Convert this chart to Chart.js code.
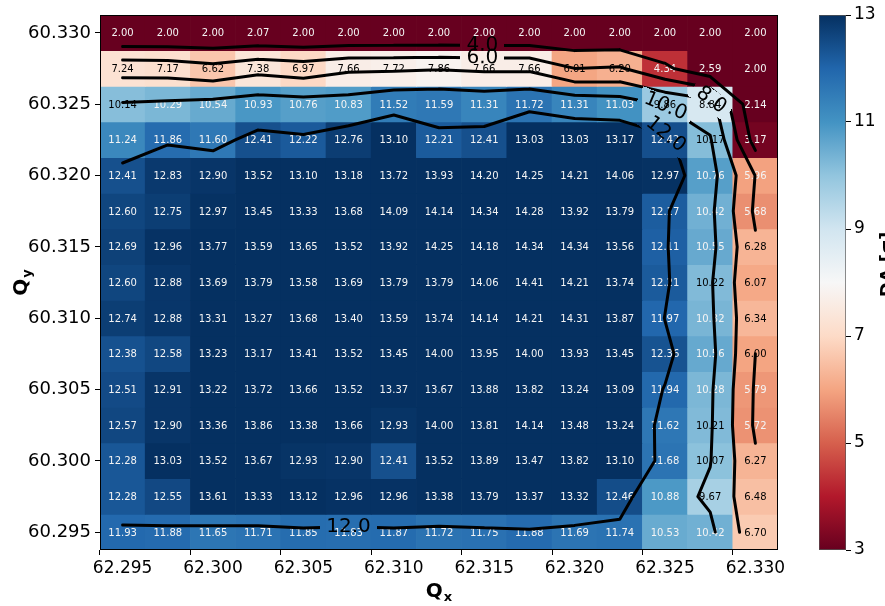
<!DOCTYPE html>
<html>
<head>
<meta charset="utf-8">
<script src="https://cdn.jsdelivr.net/npm/chart.js@4.4.0/dist/chart.umd.min.js"></script>
<style>
  html, body { margin: 0; padding: 0; background: #fff; }
  #wrap { position: relative; width: 885px; height: 606px; overflow: hidden; }
  #main { position: absolute; left: 0; top: 0; }
  #cbar { position: absolute; left: 800px; top: 0; }
</style>
</head>
<body>
<div id="wrap">
  <canvas id="main" width="885" height="606"></canvas>
  <canvas id="cbar" width="85" height="606"></canvas>
</div>
<script>
var qx = [62.295, 62.2975, 62.300, 62.3025, 62.305, 62.3075, 62.310, 62.3125, 62.315, 62.3175, 62.320, 62.3225, 62.325, 62.3275, 62.330];
var qy = [60.330, 60.3275, 60.325, 60.3225, 60.320, 60.3175, 60.315, 60.3125, 60.310, 60.3075, 60.305, 60.3025, 60.300, 60.2975, 60.295];

// rows top (60.330) to bottom (60.295)
var da = [
    [2.00, 2.00, 2.00, 2.07, 2.00, 2.00, 2.00, 2.00, 2.00, 2.00, 2.00, 2.00, 2.00, 2.00, 2.00],
    [7.24, 7.17, 6.62, 7.38, 6.97, 7.66, 7.72, 7.86, 7.66, 7.66, 6.01, 6.20, 4.34, 2.59, 2.00],
    [10.14, 10.29, 10.54, 10.93, 10.76, 10.83, 11.52, 11.59, 11.31, 11.72, 11.31, 11.03, 9.86, 8.84, 2.14],
    [11.24, 11.86, 11.60, 12.41, 12.22, 12.76, 13.10, 12.21, 12.41, 13.03, 13.03, 13.17, 12.42, 10.17, 3.17],
    [12.41, 12.83, 12.90, 13.52, 13.10, 13.18, 13.72, 13.93, 14.20, 14.25, 14.21, 14.06, 12.97, 10.76, 5.96],
    [12.60, 12.75, 12.97, 13.45, 13.33, 13.68, 14.09, 14.14, 14.34, 14.28, 13.92, 13.79, 12.17, 10.42, 5.68],
    [12.69, 12.96, 13.77, 13.59, 13.65, 13.52, 13.92, 14.25, 14.18, 14.34, 14.34, 13.56, 12.11, 10.55, 6.28],
    [12.60, 12.88, 13.69, 13.79, 13.58, 13.69, 13.79, 13.79, 14.06, 14.41, 14.21, 13.74, 12.21, 10.22, 6.07],
    [12.74, 12.88, 13.31, 13.27, 13.68, 13.40, 13.59, 13.74, 14.14, 14.21, 14.31, 13.87, 11.97, 10.32, 6.34],
    [12.38, 12.58, 13.23, 13.17, 13.41, 13.52, 13.45, 14.00, 13.95, 14.00, 13.93, 13.45, 12.36, 10.56, 6.00],
    [12.51, 12.91, 13.22, 13.72, 13.66, 13.52, 13.37, 13.67, 13.88, 13.82, 13.24, 13.09, 11.94, 10.28, 5.79],
    [12.57, 12.90, 13.36, 13.86, 13.38, 13.66, 12.93, 14.00, 13.81, 14.14, 13.48, 13.24, 11.62, 10.21, 5.72],
    [12.28, 13.03, 13.52, 13.67, 12.93, 12.90, 12.41, 13.52, 13.89, 13.47, 13.82, 13.10, 11.68, 10.07, 6.27],
    [12.28, 12.55, 13.61, 13.33, 13.12, 12.96, 12.96, 13.38, 13.79, 13.37, 13.32, 12.46, 10.88, 9.67, 6.48],
    [11.93, 11.88, 11.65, 11.71, 11.85, 11.83, 11.87, 11.72, 11.75, 11.88, 11.69, 11.74, 10.53, 10.42, 6.70]
];

var xTicks = ['62.295', '62.300', '62.305', '62.310', '62.315', '62.320', '62.325', '62.330'];
var yTicks = [60.295, 60.300, 60.305, 60.310, 60.315, 60.320, 60.325, 60.330];
var cbTicks = [3, 5, 7, 9, 11, 13];
var levels = [4, 6, 8, 10, 12];
var vmin = 3, vmax = 13;

// where the inline contour labels sit (snapped onto the line)
var clabelAt = [
    { level: 4, x: 62.3149, y: 60.32936 },
    { level: 6, x: 62.3149, y: 60.32831 },
    { level: 10, x: 62.3249, y: 60.32459 },
    { level: 8, x: 62.3274, y: 60.32505 },
    { level: 12, x: 62.3249, y: 60.32262 },
    { level: 12, x: 62.3075, y: 60.29515 }
];

var rdbuStops = [[103,0,31],[178,24,43],[214,96,77],[244,165,130],[253,219,199],[247,247,247],
                 [209,229,240],[146,197,222],[67,147,195],[33,102,172],[5,48,97]];

function rdbu(v) {
    var t = Math.min(1, Math.max(0, (v - vmin) / (vmax - vmin))) * 10;
    var i = Math.min(9, Math.floor(t)), f = t - i;
    var a = rdbuStops[i], b = rdbuStops[i + 1];
    return 'rgb(' + [0, 1, 2].map(function (k) { return Math.round(a[k] + (b[k] - a[k]) * f); }).join(',') + ')';
}

var half = (qy[0] - qy[1]) / 2;
var FONT = '"DejaVu Sans", sans-serif';
var xLabels = qx.map(function (v) { return v.toFixed(3); });

function qyAt(row) { return qy[0] + row * (qy[1] - qy[0]); }
function colAt(x) { return (x - qx[0]) / (qx[1] - qx[0]); }

// marching squares on the cell centres, points in (col, row) index space
function contourSegs(L) {
    var segs = [];
    for (var r = 0; r < qy.length - 1; r++) {
        for (var c = 0; c < qx.length - 1; c++) {
            var P = [[c, r], [c + 1, r], [c + 1, r + 1], [c, r + 1]];
            var V = [da[r][c], da[r][c + 1], da[r + 1][c + 1], da[r + 1][c]];
            var s = V.map(function (v) { return v >= L; });
            var E = [], ids = [];
            for (var k = 0; k < 4; k++) {
                var k2 = (k + 1) % 4;
                if (s[k] !== s[k2]) {
                    var t = (L - V[k]) / (V[k2] - V[k]);
                    E[k] = [P[k][0] + (P[k2][0] - P[k][0]) * t, P[k][1] + (P[k2][1] - P[k][1]) * t];
                    ids.push(k);
                }
            }
            if (ids.length === 2) {
                segs.push([E[ids[0]], E[ids[1]]]);
            } else if (ids.length === 4) {
                var mid = (V[0] + V[1] + V[2] + V[3]) / 4 >= L;
                if (mid === s[0]) { segs.push([E[0], E[1]]); segs.push([E[2], E[3]]); }
                else { segs.push([E[3], E[0]]); segs.push([E[1], E[2]]); }
            }
        }
    }
    return segs;
}

var heatExtras = {
    id: 'heatExtras',
    afterDatasetsDraw: function (chart) {
        var ctx = chart.ctx, xs = chart.scales.x, ys = chart.scales.y;

        // cell numbers
        ctx.save();
        ctx.font = '10px ' + FONT;
        ctx.textAlign = 'center';
        ctx.textBaseline = 'middle';
        da.forEach(function (row, r) {
            row.forEach(function (v, c) {
                ctx.fillStyle = (v >= 5.98 && v <= 10.25) ? '#000' : '#f4f4f4';
                ctx.fillText(v.toFixed(2), xs.getPixelForValue(c), ys.getPixelForValue(qy[r]) + 1);
            });
        });
        ctx.restore();

        // contour lines on a scratch canvas so the label gaps can be cut out
        var off = document.createElement('canvas');
        off.width = chart.width; off.height = chart.height;
        var o = off.getContext('2d');
        o.strokeStyle = '#000';
        o.lineWidth = 3;
        o.lineCap = 'round';
        o.lineJoin = 'round';
        var toPx = function (p) { return [xs.getPixelForValue(p[0]), ys.getPixelForValue(qyAt(p[1]))]; };
        var pxSegs = {};
        levels.forEach(function (L) {
            var segs = contourSegs(L).map(function (s) { return [toPx(s[0]), toPx(s[1])]; });
            pxSegs[L] = segs;
            o.beginPath();
            segs.forEach(function (s) { o.moveTo(s[0][0], s[0][1]); o.lineTo(s[1][0], s[1][1]); });
            o.stroke();
        });

        o.font = '20px ' + FONT;
        var placed = [];
        clabelAt.forEach(function (lb) {
            var ax = xs.getPixelForValue(colAt(lb.x)), ay = ys.getPixelForValue(lb.y);
            var best = null;
            pxSegs[lb.level].forEach(function (s) {
                var dx = s[1][0] - s[0][0], dy = s[1][1] - s[0][1];
                var len2 = dx * dx + dy * dy || 1;
                var t = Math.max(0, Math.min(1, ((ax - s[0][0]) * dx + (ay - s[0][1]) * dy) / len2));
                var px = s[0][0] + t * dx, py = s[0][1] + t * dy;
                var d = (px - ax) * (px - ax) + (py - ay) * (py - ay);
                if (!best || d < best.d) best = { d: d, x: px, y: py };
            });
            if (!best) return;
            // local direction: length-weighted mean of nearby segment angles
            var sx = 0, sy = 0;
            pxSegs[lb.level].forEach(function (s) {
                var mx = (s[0][0] + s[1][0]) / 2, my = (s[0][1] + s[1][1]) / 2;
                if (Math.hypot(mx - best.x, my - best.y) > 30) return;
                var dx = s[1][0] - s[0][0], dy = s[1][1] - s[0][1];
                var len = Math.hypot(dx, dy), ang = Math.atan2(dy, dx);
                sx += Math.cos(2 * ang) * len;
                sy += Math.sin(2 * ang) * len;
            });
            var a = Math.atan2(sy, sx) / 2;
            if (a > Math.PI / 2) a -= Math.PI;
            if (a < -Math.PI / 2) a += Math.PI;
            var text = lb.level.toFixed(1);
            var w = o.measureText(text).width + 12;
            o.save();
            o.translate(best.x, best.y);
            o.rotate(a);
            o.clearRect(-w / 2, -10, w, 20);
            o.restore();
            placed.push({ x: best.x, y: best.y, a: a, text: text });
        });
        ctx.drawImage(off, 0, 0, chart.width, chart.height);

        ctx.save();
        ctx.font = '20px ' + FONT;
        ctx.fillStyle = '#000';
        ctx.textAlign = 'center';
        ctx.textBaseline = 'middle';
        placed.forEach(function (p) {
            ctx.save();
            ctx.translate(p.x, p.y);
            ctx.rotate(p.a);
            ctx.fillText(p.text, 0, 0);
            ctx.restore();
        });
        ctx.restore();
    },
    afterDraw: function (chart) {
        var ctx = chart.ctx, ca = chart.chartArea;
        ctx.save();
        ctx.strokeStyle = '#000';
        ctx.lineWidth = 1;
        ctx.strokeRect(ca.left + 0.5, ca.top + 0.5, ca.right - ca.left - 1, ca.bottom - ca.top - 1);

        // axis titles with subscripts
        function title(x, y, rot, sub) {
            ctx.save();
            ctx.translate(x, y);
            ctx.rotate(rot);
            ctx.fillStyle = '#000';
            ctx.textBaseline = 'alphabetic';
            ctx.textAlign = 'left';
            ctx.font = 'bold 20px ' + FONT;
            var wq = ctx.measureText('Q').width;
            ctx.font = 'bold 13px ' + FONT;
            var ws = ctx.measureText(sub).width;
            var sx = -(wq + ws + 1) / 2;
            ctx.font = 'bold 20px ' + FONT;
            ctx.fillText('Q', sx, 0);
            ctx.font = 'bold 13px ' + FONT;
            ctx.fillText(sub, sx + wq + 1, 4);
            ctx.restore();
        }
        title((ca.left + ca.right) / 2, 597, 0, 'x');
        title(27, (ca.top + ca.bottom) / 2, -Math.PI / 2, 'y');
        ctx.restore();
    }
};

var cells = da.map(function (row, r) {
    return {
        data: qx.map(function () { return [qy[r] - half, qy[r] + half]; }),
        backgroundColor: row.map(rdbu),
        borderWidth: 0,
        grouped: false,
        categoryPercentage: 1,
        barPercentage: 1
    };
});

new Chart(document.getElementById('main'), {
    type: 'bar',
    data: {
        labels: xLabels,
        datasets: cells
    },
    options: {
        responsive: false,
        animation: false,
        events: [],
        layout: { padding: { left: 0, right: 107, top: 15, bottom: 0 } },
        plugins: { legend: { display: false }, tooltip: { enabled: false } },
        scales: {
            x: {
                afterFit: function (s) { s.height = 56; },
                border: { display: false },
                grid: {
                    drawOnChartArea: false,
                    tickLength: 5,
                    color: function (c) {
                        var lab = c.tick ? xLabels[c.tick.value] : undefined;
                        return (lab !== undefined && xTicks.indexOf(lab) >= 0) ? '#000' : 'rgba(0,0,0,0)';
                    }
                },
                ticks: {
                    autoSkip: false,
                    maxRotation: 0,
                    padding: 3,
                    color: '#000',
                    font: { family: FONT, size: 17 },
                    callback: function (val) {
                        var s = xLabels[val];
                        return (s !== undefined && xTicks.indexOf(s) >= 0) ? s : '';
                    }
                }
            },
            y: {
                min: qy[qy.length - 1] - half,
                max: qy[0] + half,
                afterBuildTicks: function (s) { s.ticks = yTicks.map(function (v) { return { value: v }; }); },
                afterFit: function (s) { s.width = 100; },
                border: { display: false },
                grid: { drawOnChartArea: false, tickLength: 5, color: '#000' },
                ticks: {
                    padding: 4,
                    color: '#000',
                    font: { family: FONT, size: 18 },
                    callback: function (v) { return Number(v).toFixed(3); }
                }
            }
        }
    },
    plugins: [heatExtras]
});

var cbLabel = {
    id: 'cbLabel',
    afterDraw: function (chart) {
        var ctx = chart.ctx, ca = chart.chartArea;
        ctx.save();
        ctx.translate(79, (ca.top + ca.bottom) / 2 - 18);
        ctx.rotate(-Math.PI / 2);
        ctx.font = 'bold 18px ' + FONT;
        ctx.fillStyle = '#000';
        ctx.textAlign = 'center';
        ctx.textBaseline = 'top';
        ctx.fillText('DA [σ]', 0, 0);
        ctx.restore();
    }
};

new Chart(document.getElementById('cbar'), {
    type: 'bar',
    data: {
        labels: ['DA'],
        datasets: [{
            data: [[vmin, vmax]],
            backgroundColor: function (c) {
                var ca = c.chart.chartArea;
                if (!ca) return '#fff';
                var g = c.chart.ctx.createLinearGradient(0, ca.bottom, 0, ca.top);
                rdbuStops.forEach(function (s, i) { g.addColorStop(i / 10, 'rgb(' + s.join(',') + ')'); });
                return g;
            },
            borderColor: '#555',
            borderWidth: 1,
            borderSkipped: false,
            categoryPercentage: 1,
            barPercentage: 1
        }]
    },
    options: {
        responsive: false,
        animation: false,
        events: [],
        layout: { padding: { left: 19, right: 0, top: 15, bottom: 56 } },
        plugins: { legend: { display: false }, tooltip: { enabled: false } },
        scales: {
            x: { display: false },
            y: {
                position: 'right',
                min: vmin,
                max: vmax,
                afterBuildTicks: function (s) { s.ticks = cbTicks.map(function (v) { return { value: v }; }); },
                afterFit: function (s) { s.width = 39; },
                border: { display: false },
                grid: { drawOnChartArea: false, tickLength: 5, color: '#000' },
                ticks: { padding: 3, color: '#000', font: { family: FONT, size: 17 } }
            }
        }
    },
    plugins: [cbLabel]
});
</script>
</body>
</html>
